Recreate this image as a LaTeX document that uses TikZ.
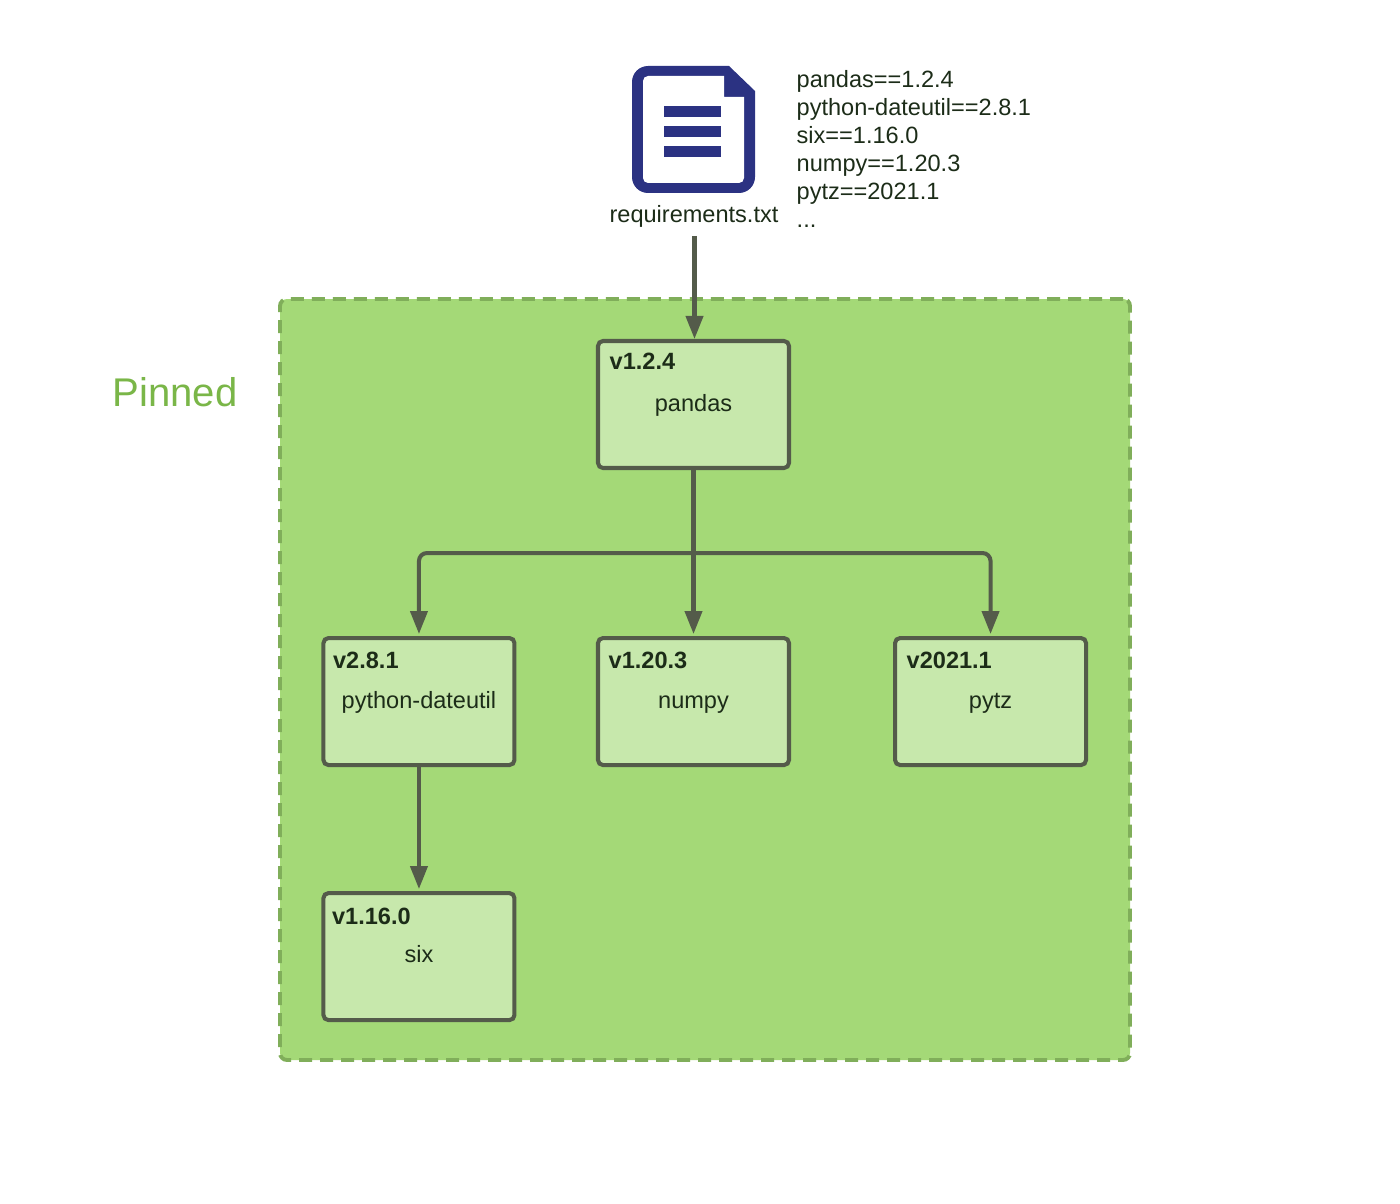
\documentclass[tikz,border=0pt]{standalone}
\usepackage{fontspec}
\setmainfont{Liberation Sans}
\usepackage{xcolor}
\definecolor{pinfill}{RGB}{164, 217, 119}
\definecolor{pinline}{RGB}{128, 174, 90}
\definecolor{pintext}{RGB}{122, 182, 72}
\definecolor{pkgfill}{RGB}{199, 232, 172}
\definecolor{pkgline}{RGB}{84, 91, 74}
\definecolor{pkgtext}{RGB}{28, 44, 24}
\definecolor{docblue}{RGB}{43, 50, 130}
\usetikzlibrary{arrows.meta, positioning, backgrounds, calc}
\tikzset{
  pkgbox/.style={draw=pkgline, fill=pkgfill, rounded corners=0.05cm, line width=1.15pt,
        minimum width=1.91cm, minimum height=1.27cm, inner sep=0pt},
  pkgname/.style={text=pkgtext, font=\fontsize{6.7}{8}\selectfont, inner sep=0pt},
  pkgver/.style={text=pkgtext, font=\fontsize{6.7}{8}\selectfont\bfseries, inner sep=0pt, anchor=north west},
  dep/.style={-{Triangle[length=0.23cm, width=0.17cm]}, line width=1.15pt, draw=pkgline, rounded corners=0.08cm},
}
\begin{document}
\begin{tikzpicture}
  \useasboundingbox (0,0) rectangle (14,-12.04);
  % pinned area
  \node[draw=pinline, fill=pinfill, dashed, dash pattern=on 0.13cm off 0.08cm, line width=1.1pt,
        rounded corners=0.07cm, minimum width=8.5cm, minimum height=7.61cm,
        inner sep=0pt] (pinned) at (7.05,-6.795) {};
  \node[text=pintext, font=\fontsize{11.4}{13}\selectfont, inner sep=0pt] (pinnedlabel) at (1.75,-3.92) {Pinned};
  % file icon
  \fill[docblue, rounded corners=0.16cm]
    (7.0,-1.93) -- (6.32,-1.93) -- (6.32,-0.66) -- (7.0,-0.66) [sharp corners] -- (7.29,-0.66) -- (7.55,-0.91)
    -- (7.55,-1.2) [rounded corners=0.16cm] -- (7.55,-1.93) -- cycle;
  \fill[white, rounded corners=0.05cm]
    (7.0,-1.83) -- (6.43,-1.83) -- (6.43,-0.76) -- (7.0,-0.76) [sharp corners] -- (7.24,-0.76) -- (7.24,-0.97) -- (7.44,-0.97)
    -- (7.44,-1.2) [rounded corners=0.05cm] -- (7.44,-1.83) -- cycle;
  \fill[docblue] (6.64,-1.17) rectangle (7.21,-1.06);
  \fill[docblue] (6.64,-1.37) rectangle (7.21,-1.26);
  \fill[docblue] (6.64,-1.57) rectangle (7.21,-1.46);
  \node[pkgname] (reqfile) at (6.94,-2.16) {requirements.txt};
  \node[pkgname, anchor=north west, align=left, font=\fontsize{6.7}{7.97}\selectfont] (reqlist) at (7.96,-0.70)
    {pandas==1.2.4\\python-dateutil==2.8.1\\six==1.16.0\\numpy==1.20.3\\pytz==2021.1\\...};
  \coordinate (reqout) at (6.945,-2.36);
  % packages
  \node[pkgbox] (pandas) at (6.935,-4.045) {};
  \node[pkgbox, below=1.66cm of pandas] (numpy) {};
  \node[pkgbox, left=0.795cm of numpy] (dateutil) {};
  \node[pkgbox, right=1.02cm of numpy] (pytz) {};
  \node[pkgbox, below=1.24cm of dateutil] (six) {};
  \node[pkgver] (pandasver) at ($(pandas.north west)+(0.13,-0.13)$) {v1.2.4};
  \node[pkgver] (numpyver) at ($(numpy.north west)+(0.12,-0.15)$) {v1.20.3};
  \node[pkgver] (dateutilver) at ($(dateutil.north west)+(0.11,-0.15)$) {v2.8.1};
  \node[pkgver] (pytzver) at ($(pytz.north west)+(0.13,-0.15)$) {v2021.1};
  \node[pkgver] (sixver) at ($(six.north west)+(0.10,-0.16)$) {v1.16.0};
  \node[pkgname] (pandasname) at ($(pandas.center)+(0,-0.01)$) {pandas};
  \node[pkgname] (numpyname) at ($(numpy.center)+(0,-0.03)$) {numpy};
  \node[pkgname] (dateutilname) at ($(dateutil.center)+(0,-0.01)$) {python-dateutil};
  \node[pkgname] (pytzname) at ($(pytz.center)+(0,-0.02)$) {pytz};
  \node[pkgname] (sixname) at ($(six.center)+(0,0.03)$) {six};
  % connectors
  \coordinate[below=0.83cm of pandas] (split);
  \draw[dep] (reqout) -- (reqout |- pandas.north);
  \draw[line width=1.15pt, draw=pkgline] (pandas.south) -- (split);
  \draw[dep, shorten >=0.02cm] (split) -| (dateutil.north);
  \draw[dep, shorten >=0.02cm] (split) -- (numpy.north);
  \draw[dep, shorten >=0.02cm] (split) -| (pytz.north);
  \draw[dep, shorten >=0.02cm] (dateutil.south) -- (six.north);
\end{tikzpicture}
\end{document}
